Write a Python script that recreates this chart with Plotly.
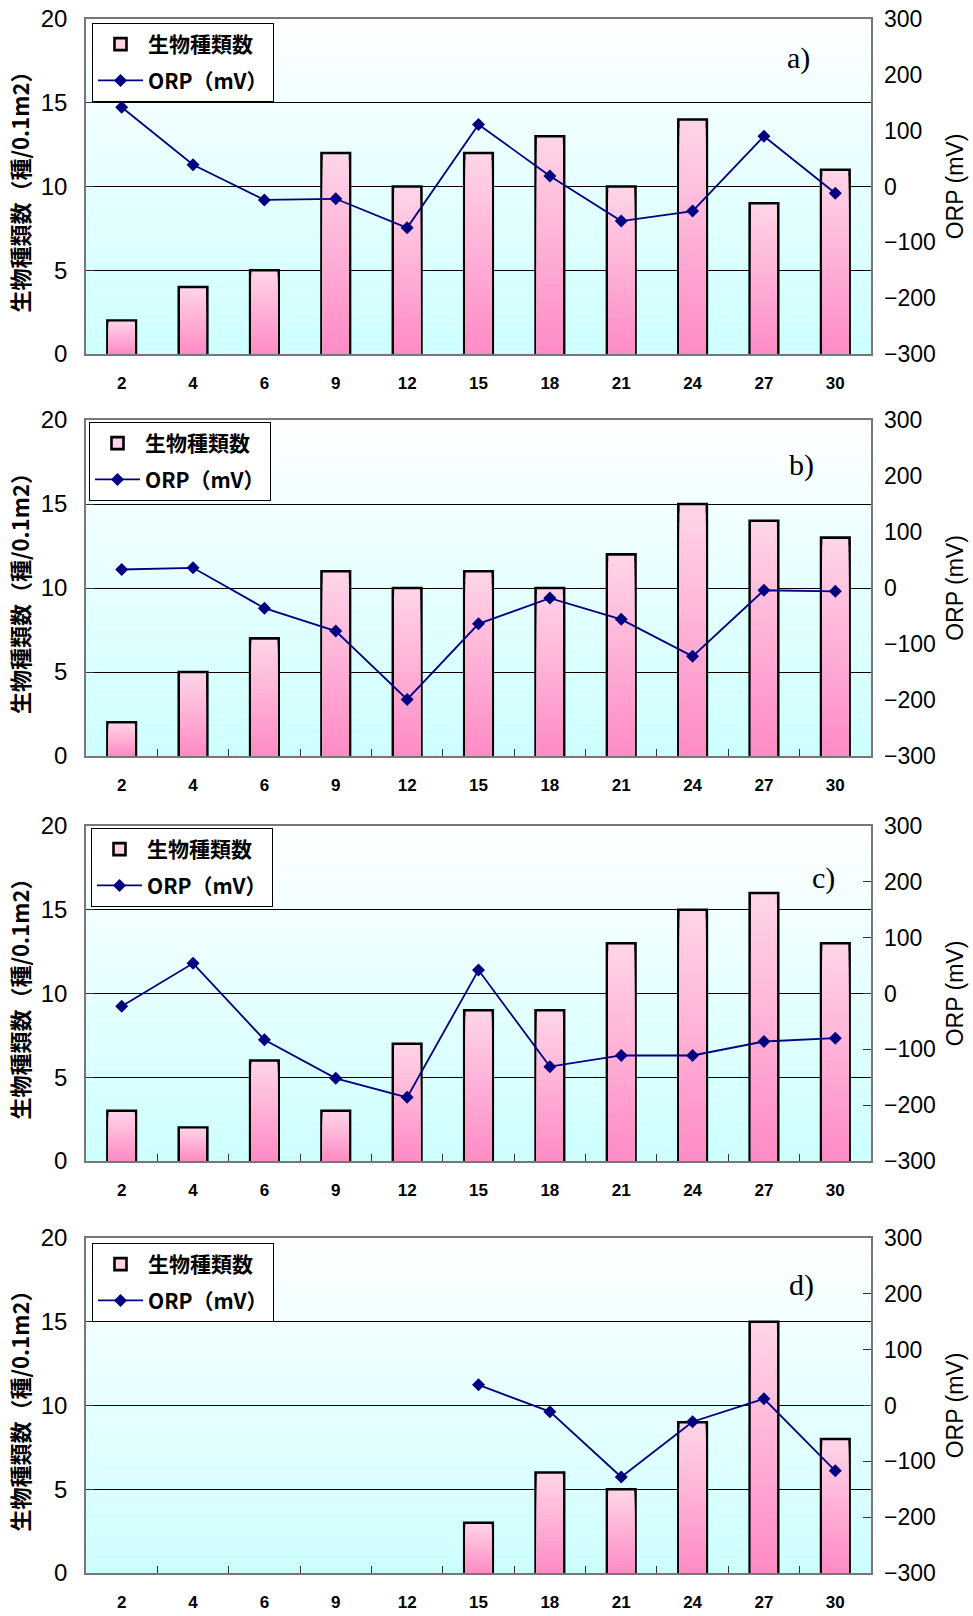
import plotly.graph_objects as go

# Sampling days (category axis)
days = ["2", "4", "6", "9", "12", "15", "18", "21", "24", "27", "30"]

# Number of species per 0.1 m2 (left axis) and ORP in mV (right axis)
species_a = [2, 4, 5, 12, 10, 12, 13, 10, 14, 9, 11]
orp_a = [142, 39, -24, -22, -74, 111, 19, -62, -44, 90, -12]

species_b = [2, 5, 7, 11, 10, 11, 10, 12, 15, 14, 13]
orp_b = [33, 36, -36, -77, -199, -64, -18, -56, -122, -4, -6]

species_c = [3, 2, 6, 3, 7, 9, 9, 13, 15, 16, 13]
orp_c = [-23, 54, -83, -152, -186, 42, -131, -111, -111, -86, -80]

species_d = [None, None, None, None, None, 3, 6, 5, 9, 15, 8]
orp_d = [None, None, None, None, None, 37, -11, -128, -29, 12, -117]

panel_labels = ["a)", "b)", "c)", "d)"]
species_name = "生物種類数"
orp_name = "ORP（mV）"
left_title = "生物種類数（種/0.1m2）"
right_title = "ORP (mV)"

panels = [
    (species_a, orp_a),
    (species_b, orp_b),
    (species_c, orp_c),
    (species_d, orp_d),
]

W, H = 973, 1616
M_L, M_R, M_T, M_B = 86, 102, 19, 43
plot_h = H - M_T - M_B

# vertical pixel extents of the four plot areas
panel_px = [(19, 354), (420, 756), (826, 1161), (1238, 1573)]
legend_px = [(92, 23), (89, 422), (91, 828), (92, 1243)]
label_pos = [(0.908, 0.884), (0.911, 0.866), (0.940, 0.845), (0.911, 0.860)]
right_ticks = ["", "", "inside", "inside"]
bottom_ticks = ["", "inside", "inside", "inside"]


def py(px):
    return (H - M_B - px) / plot_h


def mix(c0, c1, t):
    return "rgb(%d,%d,%d)" % tuple(round(a + (b - a) * t) for a, b in zip(c0, c1))


BAR_TOP = (255, 212, 232)
BAR_BOTTOM = (255, 140, 198)
BG_TOP = (255, 255, 255)
BG_BOTTOM = (204, 255, 255)
NAVY = "#000080"
FRAME = "#777777"
NUM_FONT = "Liberation Sans, Arial, sans-serif"
JP_FONT = "Noto Sans CJK JP, sans-serif"

N_BANDS = 28
BAR_W = 0.40
band_w = BAR_W - 2.6 / (785 / 11)

fig = go.Figure()
layout = dict(
    width=W,
    height=H,
    margin=dict(l=M_L, r=M_R, t=M_T, b=M_B, autoexpand=False),
    paper_bgcolor="white",
    plot_bgcolor="white",
    barmode="overlay",
    showlegend=True,
    shapes=[],
    annotations=[],
)

for i, (species, orp) in enumerate(panels):
    sfx = "" if i == 0 else str(i + 1)
    xid = "x" + sfx
    ylid = "y" + ("" if i == 0 else str(2 * i + 1))
    yrid = "y" + str(2 * i + 2)
    leg = "legend" + sfx

    top_px, bot_px = panel_px[i]
    dom = [py(bot_px), py(top_px)]

    layout["xaxis" + sfx] = dict(
        domain=[0, 1], anchor=ylid, type="category",
        categoryorder="array", categoryarray=days, range=[-0.5, 10.5],
        showline=True, mirror=True, linecolor=FRAME, linewidth=1.5,
        ticks=bottom_ticks[i], tickson="boundaries", ticklen=7, tickcolor="#333",
        tickfont=dict(family=NUM_FONT, size=17, color="black", weight="bold"),
        ticklabelstandoff=13, showgrid=False, zeroline=False, fixedrange=True,
    )
    layout["yaxis" + ("" if i == 0 else str(2 * i + 1))] = dict(
        domain=dom, anchor=xid, range=[0, 20], dtick=5,
        showgrid=True, gridcolor="black", gridwidth=1,
        showline=True, mirror=True, linecolor=FRAME, linewidth=1.5,
        ticks="inside", ticklen=8, tickcolor="#333", zeroline=False,
        tickfont=dict(family=NUM_FONT, size=24, color="black"),
        ticklabelstandoff=12,
        title=dict(text=left_title, standoff=5,
                   font=dict(family=JP_FONT, size=22, color="black", weight="bold")),
    )
    layout["yaxis" + str(2 * i + 2)] = dict(
        overlaying=ylid, side="right", anchor=xid, range=[-300, 300], dtick=100,
        showgrid=False, showline=False, zeroline=False,
        ticks=right_ticks[i], ticklen=8, tickcolor="#333",
        tickfont=dict(family=NUM_FONT, size=23, color="black"),
        ticklabelstandoff=12,
        title=dict(text=right_title, standoff=12,
                   font=dict(family=NUM_FONT, size=23, color="black")),
    )

    # gradient background of the plot area
    K = 50
    for k in range(K):
        layout["shapes"].append(dict(
            type="rect", xref=xid + " domain", yref=ylid + " domain",
            x0=0, x1=1, y0=k / K, y1=(k + 1) / K, layer="below",
            line=dict(width=0), fillcolor=mix(BG_BOTTOM, BG_TOP, (k + 0.5) / K),
        ))

    # bars: outlined full bar, then overlaid bands shading toward the base
    fig.add_trace(go.Bar(
        x=days, y=species, xaxis=xid, yaxis=ylid, width=BAR_W,
        name=species_name, legend=leg, legendgroup="s" + sfx,
        marker=dict(color=mix(BAR_TOP, BAR_BOTTOM, 0.0),
                    line=dict(color="black", width=2.6)),
    ))
    for k in range(1, N_BANDS):
        frac = (N_BANDS - k) / N_BANDS
        fig.add_trace(go.Bar(
            x=days, y=[None if v is None else v * frac for v in species],
            xaxis=xid, yaxis=ylid, width=band_w, showlegend=False,
            hoverinfo="skip",
            marker=dict(color=mix(BAR_TOP, BAR_BOTTOM, k / (N_BANDS - 1)),
                        line=dict(width=0)),
        ))

    fig.add_trace(go.Scatter(
        x=days, y=orp, xaxis=xid, yaxis=yrid, mode="lines+markers",
        name=orp_name, legend=leg, legendgroup="o" + sfx,
        line=dict(color=NAVY, width=1.8),
        marker=dict(symbol="diamond", size=10, color=NAVY),
        connectgaps=False,
    ))

    lx, ly = legend_px[i]
    layout[leg] = dict(
        x=(lx - M_L) / 785, y=py(ly), xanchor="left", yanchor="top",
        xref="paper", yref="paper",
        bgcolor="white", bordercolor="black", borderwidth=1,
        font=dict(family=JP_FONT, size=21, color="black", weight="bold"),
        traceorder="grouped", tracegroupgap=6, itemwidth=45,
    )

    ax, ay = label_pos[i]
    layout["annotations"].append(dict(
        text=panel_labels[i], xref=xid + " domain", yref=ylid + " domain",
        x=ax, y=ay, xanchor="center", yanchor="middle", showarrow=False,
        font=dict(family="Liberation Serif, Times New Roman, serif", size=30,
                  color="black"),
    ))

fig.update_layout(**layout)
fig.write_html("out.html")
